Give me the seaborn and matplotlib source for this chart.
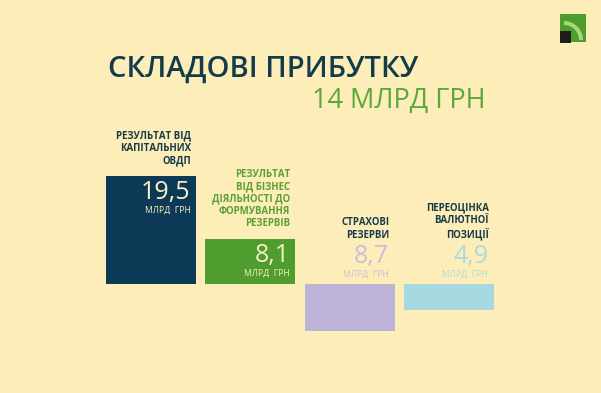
import matplotlib
matplotlib.use("Agg")
import matplotlib.pyplot as plt
import seaborn as sns
import pandas as pd
from matplotlib.patches import Rectangle, Wedge

# ---- data ----
categories = ["РЕЗУЛЬТАТ ВІД\nКАПІТАЛЬНИХ\nОВДП",
              "РЕЗУЛЬТАТ\nВІД БІЗНЕС\nДІЯЛЬНОСТІ ДО\nФОРМУВАННЯ\nРЕЗЕРВІВ",
              "СТРАХОВІ\nРЕЗЕРВИ",
              "ПЕРЕОЦІНКА\nВАЛЮТНОЇ\nПОЗИЦІЇ"]
values = [19.5, 8.1, -8.7, -4.9]
value_labels = ["19,5", "8,1", "8,7", "4,9"]
unit_label = "МЛРД  ГРН"
title = "СКЛАДОВІ ПРИБУТКУ"
subtitle = "14 МЛРД ГРН"

bar_colors = ["#0c3a56", "#4f9d2e", "#bdb3d7", "#a7d8e2"]
value_colors = ["#fbefc6", "#f6f0c2", "#c9bedc", "#acd9e2"]
cat_colors = ["#173a4a", "#5aa135", "#173a4a", "#173a4a"]
BG = "#fdedb8"

df = pd.DataFrame({"cat": categories, "val": values})

sns.set_theme(style="white")
plt.rcParams['font.family'] = ['Open Sans', 'DejaVu Sans']

W, H = 601, 393
fig = plt.figure(figsize=(W / 100, H / 100), dpi=100, facecolor=BG)

# axes placement in pixels
px_unit = 5.5
base_px = 283.5
left_px, right_px = 101.5, 498.5
ylo, yhi = -10, 20
top_px = base_px - yhi * px_unit
bot_px = base_px - ylo * px_unit
ax = fig.add_axes([left_px / W, 1 - bot_px / H, (right_px - left_px) / W, (bot_px - top_px) / H])
ax.set_facecolor(BG)

sns.barplot(data=df, x="cat", y="val", hue="cat", palette=bar_colors,
            width=0.905, legend=False, ax=ax, saturation=1, linewidth=0)
ax.set_xlim(-0.5, 3.5)
ax.set_ylim(ylo, yhi)
ax.axis("off")

PT = 0.72  # points per pixel
for i, (p, v) in enumerate(zip(ax.patches, values)):
    xr = p.get_x() + p.get_width()
    if v > 0:
        anchor = v
        dig_off = -23
        unit_off = -36.5
        cat_off = 12.5 - 2.5
    else:
        anchor = 0
        dig_off = 20
        unit_off = 6.5
        cat_off = 45.5 - 2.5
    ax.annotate(value_labels[i], xy=(xr, anchor), xytext=(-5.5 * PT, dig_off * PT),
                textcoords="offset points", ha="right", va="baseline",
                fontsize=18, color=value_colors[i], fontweight="normal")
    ax.annotate(unit_label, xy=(xr, anchor), xytext=(-5.5 * PT, unit_off * PT),
                textcoords="offset points", ha="right", va="baseline",
                fontsize=6.2, color=value_colors[i])
    ax.annotate(categories[i], xy=(xr, anchor), xytext=(-5 * PT, cat_off * PT),
                textcoords="offset points", ha="right", va="bottom",
                fontsize=6.9, color=cat_colors[i], fontweight="bold",
                linespacing=1.17, multialignment="right")

# titles
fig.text(108 / W, 1 - 77 / H, title, ha="left", va="baseline",
         fontsize=21, color="#123b4b", fontweight="semibold")
fig.text(486 / W, 1 - 108 / H, subtitle, ha="right", va="baseline",
         fontsize=19.5, color="#5aa83a", fontweight="medium")

# logo
lax = fig.add_axes([0, 0, 1, 1], facecolor="none")
lax.set_xlim(0, W)
lax.set_ylim(H, 0)
lax.axis("off")
lax.add_patch(Rectangle((560, 14), 26, 28, color="#4f9d2e", lw=0))
lax.add_patch(Wedge((564, 40), 19, 270, 360, width=4, color="#a9d679", lw=0))
lax.add_patch(Rectangle((560, 30.5), 10.5, 12, color="#1d1d1b", lw=0))

fig.savefig("out.png", dpi=100, facecolor=BG)
